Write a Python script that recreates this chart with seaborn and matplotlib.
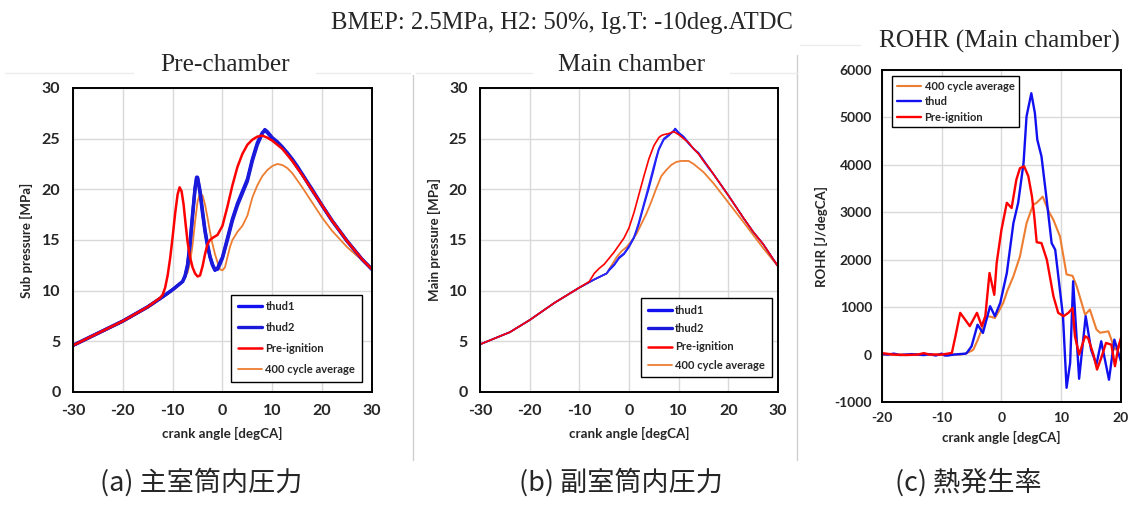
import matplotlib
matplotlib.use("Agg")
import matplotlib.pyplot as plt
import seaborn as sns
from matplotlib.lines import Line2D

# ---- data ----
# (a) pre-chamber pressure [MPa]
pre_avg_x = [-30, -25, -20, -15, -12, -10, -8, -7, -6.5, -6, -5.5, -5, -4.5, -4, -3.5, -3, -2.5, -2,
             -1.5, -1, -0.5, 0, 0.5, 1, 1.5, 2, 3, 4, 5, 6, 7, 8, 9, 10, 11, 12, 13, 14, 15, 16,
             18, 20, 22, 25, 28, 30]
pre_avg_y = [4.5, 5.7, 6.9, 8.3, 9.3, 10.0, 10.9, 11.8, 12.8, 14.5, 16.8, 18.8, 19.6, 19.4, 18.5, 17.2,
             15.8, 14.6, 13.6, 12.8, 12.1, 12.0, 12.3, 13.3, 14.3, 15.0, 15.8, 16.4, 17.4, 19.2, 20.4,
             21.3, 21.9, 22.3, 22.5, 22.4, 22.1, 21.6, 20.9, 20.2, 18.7, 17.2, 15.9, 14.3, 13.0, 12.1]

pre_thud_x = [-30, -25, -20, -15, -12, -10, -9, -8, -7.5, -7, -6.5, -6, -5.5, -5.2, -5, -4.5, -4, -3.5,
              -3, -2.5, -2, -1.5, -1, -0.5, 0, 1, 2, 3, 4, 5, 6, 7, 8, 8.5, 9, 10, 11, 12, 13, 14,
              15, 16, 18, 20, 22, 25, 28, 30]
pre_thud1_y = [4.6, 5.8, 7.0, 8.4, 9.4, 10.1, 10.5, 10.9, 11.5, 12.6, 14.8, 17.6, 20.2, 21.2, 21.1,
               19.6, 17.6, 15.8, 14.4, 13.3, 12.5, 12.0, 12.2, 12.8, 13.3, 15.2, 17.1, 18.6, 19.8,
               21.0, 23.0, 24.6, 25.6, 25.8, 25.6, 25.0, 24.6, 24.1, 23.6, 22.9, 22.2, 21.5, 19.9,
               18.4, 16.9, 14.9, 13.1, 12.1]
pre_thud2_y = [4.6, 5.8, 7.0, 8.4, 9.4, 10.1, 10.5, 10.9, 11.4, 12.4, 14.5, 17.3, 20.0, 21.0, 21.2,
               19.9, 17.9, 16.0, 14.6, 13.4, 12.6, 12.1, 12.1, 12.6, 13.2, 15.0, 16.9, 18.4, 19.6,
               20.8, 22.8, 24.4, 25.5, 25.9, 25.7, 25.1, 24.7, 24.2, 23.6, 23.0, 22.3, 21.5, 20.0,
               18.4, 16.9, 14.9, 13.1, 12.1]

pre_pig_x = [-30, -25, -20, -15, -12.5, -12, -11.5, -11, -10.5, -10, -9.5, -9, -8.6, -8.2, -7.8, -7.4,
             -7, -6.5, -6, -5.5, -5, -4.5, -4, -3.5, -3, -2.5, -2, -1, 0, 1, 2, 3, 4, 5, 6, 7, 8, 9,
             10, 11, 12, 14, 16, 18, 20, 22, 25, 28, 30]
pre_pig_y = [4.6, 5.8, 7.0, 8.4, 9.3, 9.6, 10.3, 11.5, 13.2, 15.3, 17.6, 19.5, 20.2, 19.8, 18.5, 16.6,
             14.8, 13.3, 12.3, 11.7, 11.4, 11.5, 12.4, 13.6, 14.6, 15.0, 15.2, 15.5, 16.4, 18.3, 20.4,
             22.2, 23.5, 24.4, 24.9, 25.2, 25.3, 25.1, 24.8, 24.4, 24.0, 22.8, 21.4, 19.9, 18.4,
             16.9, 14.9, 13.1, 12.1]

# (b) main chamber pressure [MPa]
main_avg_x = [-30, -24, -20, -15, -10, -7, -4.5, -3.5, -2.5, -1.5, -0.5, 0.5, 1.5, 2.5, 3.5, 4.5, 5.5,
              6.5, 7.5, 8.5, 9.5, 10.5, 12, 13, 15, 17, 20, 23, 25, 27, 30]
main_avg_y = [4.7, 5.9, 7.1, 8.8, 10.3, 11.1, 11.7, 12.5, 13.3, 13.9, 14.3, 14.9, 15.6, 16.6, 17.6,
              18.8, 20.1, 21.3, 21.9, 22.4, 22.7, 22.8, 22.8, 22.5, 21.7, 20.6, 18.7, 16.8, 15.5,
              14.2, 12.4]

main_thud_x = [-30, -24, -20, -15, -10, -7, -4.5, -4, -3, -2, -1, 0, 1, 1.5, 2, 3, 4, 5, 5.5, 6, 7, 8,
               9, 9.3, 10, 11, 12, 13, 14, 15, 16, 17, 18, 20, 23, 25, 27, 30]
main_thud1_y = [4.7, 5.9, 7.1, 8.8, 10.3, 11.1, 11.7, 12.0, 12.5, 13.2, 13.6, 14.3, 15.2, 15.9, 16.6,
                18.4, 20.1, 22.0, 23.0, 23.9, 24.9, 25.3, 25.8, 26.0, 25.6, 25.2, 24.6, 24.0, 23.6,
                22.9, 22.2, 21.5, 20.8, 19.4, 17.2, 15.8, 14.6, 12.4]
main_thud2_y = [4.7, 5.9, 7.1, 8.8, 10.3, 11.1, 11.7, 12.1, 12.6, 13.3, 13.7, 14.4, 15.3, 16.0, 16.8,
                18.6, 20.4, 22.3, 23.2, 24.0, 25.0, 25.4, 25.7, 25.9, 25.5, 25.1, 24.5, 24.0, 23.5,
                22.8, 22.1, 21.5, 20.8, 19.4, 17.2, 15.8, 14.6, 12.4]

main_pig_x = [-30, -24, -20, -15, -10, -8, -7, -6, -5, -4, -3, -2, -1, 0, 1, 2, 3, 4, 5, 6, 6.5, 7, 8,
              9, 10, 11, 12, 13, 14, 15, 16, 17, 18, 20, 23, 25, 27, 30]
main_pig_y = [4.7, 5.9, 7.1, 8.8, 10.3, 10.9, 11.7, 12.2, 12.6, 13.2, 13.8, 14.5, 15.2, 16.2, 17.7,
              19.5, 21.3, 23.0, 24.3, 25.1, 25.3, 25.4, 25.5, 25.7, 25.4, 25.0, 24.6, 24.0, 23.5,
              22.8, 22.2, 21.5, 20.8, 19.4, 17.2, 15.8, 14.6, 12.4]

# (c) rate of heat release [J/degCA]
rohr_avg_x = [-20, -15, -10, -7, -6, -5.5, -5, -4.7, -4, -3.3, -2.5, -1.8, -1.1, -0.5, 0.3, 1, 2, 3.1,
              4.2, 5.3, 5.9, 6.9, 7.9, 8.7, 9.8, 10.9, 11.9, 12.6, 14, 14.8, 15.9, 16.5, 17.9, 19, 20]
rohr_avg_y = [0, 0, 0, 0, 20, 50, 80, 105, 300, 527, 808, 800, 770, 900, 1090, 1350, 1650, 2070, 2770,
              3160, 3200, 3330, 3020, 2840, 2490, 1690, 1660, 1440, 840, 950, 530, 460, 490, 105, 175]

rohr_thud_x = [-20, -19, -18, -17, -16, -15, -14, -13, -12, -11, -10, -9.5, -9, -8, -7, -6, -5.8, -5,
               -4, -3.1, -1.9, -1.1, -0.2, 0.9, 2, 2.8, 3.7, 4.2, 5, 5.6, 6, 6.7, 7.5, 8.4, 9, 10.3,
               10.9, 11.5, 12, 13, 14.1, 15, 15.9, 16.7, 18, 18.9, 20]
rohr_thud_y = [10, 0, 20, -10, 0, 10, 0, -10, 10, -20, 20, -20, -20, 0, 10, 20, 35, 175, 630, 456,
               1020, 810, 1090, 1720, 2770, 3200, 4040, 5020, 5510, 5090, 4530, 4180, 3340, 2350,
               2210, 810, -700, -175, 1545, -510, 810, 105, -210, 280, -530, 315, -140]

rohr_pig_x = [-20, -18, -16, -14, -13, -12, -10, -9, -8.3, -7.7, -6.9, -6.1, -5.3, -4.1, -3.3, -2.7,
              -2, -1.2, -0.8, 0, 0.9, 1.7, 2.5, 3.1, 3.8, 4.5, 5.1, 5.5, 5.9, 6.7, 7.6, 8.7, 9.5,
              10.4, 11.2, 11.9, 12.3, 13, 14, 14.5, 15.4, 16, 16.8, 17.5, 18.4, 19, 19.6, 20]
rohr_pig_y = [30, 0, -10, 0, 30, 0, 0, 20, 35, 386, 880, 740, 600, 880, 600, 810, 1720, 1260, 1930,
              2630, 3200, 3090, 3690, 3930, 3970, 3760, 3340, 2910, 2370, 2350, 2000, 1230, 880, 810,
              880, 980, 386, 0, 386, 350, 0, -316, -35, 245, 210, -245, 175, 350]

sup_title = "BMEP: 2.5MPa, H2: 50%, Ig.T: -10deg.ATDC"
panel_titles = ["Pre-chamber", "Main chamber", "ROHR (Main chamber)"]
captions = ["(a) 主室筒内圧力", "(b) 副室筒内圧力", "(c) 熱発生率"]

BLUE = "#1010F0"
RED = "#FF0000"
ORANGE = "#ED7D31"

sns.set_theme(style="white")
plt.rcParams["font.family"] = ["Lato", "DejaVu Sans"]
plt.rcParams["font.weight"] = "bold"
plt.rcParams["axes.unicode_minus"] = False

fig = plt.figure(figsize=(11.31, 5.11), dpi=100)
ax1 = fig.add_axes([0.0645, 0.2329, 0.2644, 0.5949])
ax2 = fig.add_axes([0.4244, 0.2329, 0.2635, 0.5949])
ax3 = fig.add_axes([0.7798, 0.2133, 0.2113, 0.6497])


def style_axes(ax, tick_size, pad):
    ax.grid(True, color="#d9d9d9", lw=1.0)
    ax.set_axisbelow(True)
    for s in ax.spines.values():
        s.set_color("black")
        s.set_linewidth(1.4)
    ax.tick_params(axis="both", labelsize=tick_size, length=0, pad=pad)
    for lab in ax.get_xticklabels() + ax.get_yticklabels():
        lab.set_fontweight("bold")


def line(ax, x, y, color, lw):
    sns.lineplot(x=x, y=y, ax=ax, color=color, lw=lw, sort=False, estimator=None)


# (a)
line(ax1, pre_avg_x, pre_avg_y, ORANGE, 1.3)
line(ax1, pre_thud_x, pre_thud1_y, BLUE, 2.4)
line(ax1, pre_thud_x, pre_thud2_y, "#1A1AD8", 2.4)
line(ax1, pre_pig_x, pre_pig_y, RED, 1.8)
ax1.set_xlim(-30, 30)
ax1.set_ylim(0, 30)
ax1.set_xticks(range(-30, 31, 10))
ax1.set_yticks(range(0, 31, 5))
ax1.set_xlabel("crank angle [degCA]", fontsize=9.6, fontweight="bold", labelpad=6)
ax1.set_ylabel("Sub pressure [MPa]", fontsize=9.5, fontweight="bold", labelpad=6)
style_axes(ax1, 11.5, 9)

# (b)
line(ax2, main_avg_x, main_avg_y, ORANGE, 1.3)
line(ax2, main_thud_x, main_thud1_y, BLUE, 1.2)
line(ax2, main_thud_x, main_thud2_y, "#2828FF", 1.2)
line(ax2, main_pig_x, main_pig_y, RED, 1.2)
ax2.set_xlim(-30, 30)
ax2.set_ylim(0, 30)
ax2.set_xticks(range(-30, 31, 10))
ax2.set_yticks(range(0, 31, 5))
ax2.set_xlabel("crank angle [degCA]", fontsize=9.6, fontweight="bold", labelpad=6)
ax2.set_ylabel("Main pressure [MPa]", fontsize=9.5, fontweight="bold", labelpad=6)
style_axes(ax2, 11.5, 9)

# (c)
line(ax3, rohr_avg_x, rohr_avg_y, ORANGE, 1.5)
line(ax3, rohr_thud_x, rohr_thud_y, BLUE, 1.7)
line(ax3, rohr_pig_x, rohr_pig_y, RED, 1.7)
ax3.set_xlim(-20, 20)
ax3.set_ylim(-1000, 6000)
ax3.set_xticks(range(-20, 21, 10))
ax3.set_yticks(range(-1000, 6001, 1000))
ax3.set_xlabel("crank angle [degCA]", fontsize=9.5, fontweight="bold", labelpad=5)
ax3.set_ylabel("ROHR [J/degCA]", fontsize=9.5, fontweight="bold", labelpad=5)
style_axes(ax3, 10, 7)

leg_kw = dict(frameon=True, fancybox=False, edgecolor="black", framealpha=1,
              handlelength=2.2, handletextpad=0.3, borderpad=0.6, labelspacing=0.9)
h_pressure = [Line2D([], [], color=BLUE, lw=2.4), Line2D([], [], color="#1A1AD8", lw=2.4),
              Line2D([], [], color=RED, lw=1.8), Line2D([], [], color=ORANGE, lw=1.3)]
lab_pressure = ["thud1", "thud2", "Pre-ignition", "400 cycle average"]
lg1 = ax1.legend(h_pressure, lab_pressure, loc="lower right", bbox_to_anchor=(0.985, 0.015),
                 prop={"size": 8, "weight": "bold"}, **leg_kw)
lg2 = ax2.legend(h_pressure, lab_pressure, loc="lower right", bbox_to_anchor=(0.998, 0.03),
                 prop={"size": 8, "weight": "bold"}, **dict(leg_kw, labelspacing=0.65))
lg3 = ax3.legend([Line2D([], [], color=ORANGE, lw=1.5), Line2D([], [], color=BLUE, lw=1.7),
                  Line2D([], [], color=RED, lw=1.7)],
                 ["400 cycle average", "thud", "Pre-ignition"], loc="upper left",
                 bbox_to_anchor=(0.02, 0.998), prop={"size": 8, "weight": "bold"},
                 **dict(leg_kw, labelspacing=0.4, borderpad=0.4))
for lg in (lg1, lg2, lg3):
    lg.get_frame().set_linewidth(1.0)

# titles
serif = ["Liberation Serif", "DejaVu Serif"]
fig.text(0.497, 0.955, sup_title, ha="center", va="center", fontsize=17.7, family=serif,
         fontweight="normal")
fig.text(0.199, 0.873, panel_titles[0], ha="center", va="center", fontsize=18.3, family=serif,
         fontweight="normal")
fig.text(0.5587, 0.873, panel_titles[1], ha="center", va="center", fontsize=18.3, family=serif,
         fontweight="normal")
fig.text(0.8838, 0.918, panel_titles[2], ha="center", va="center", fontsize=18.3, family=serif,
         fontweight="normal")

# captions
cjk = ["Noto Sans CJK JP", "DejaVu Sans"]
for xc, txt in zip([0.178, 0.549, 0.856], captions):
    fig.text(xc, 0.027, txt, ha="center", va="bottom", fontsize=19.5, family=cjk,
             fontweight="normal")

# separators between panels
sep = "#cfcfcf"
fig.add_artist(Line2D([413 / 1131, 413 / 1131], [1 - 75 / 511, 1 - 460 / 511], color=sep, lw=1))
fig.add_artist(Line2D([797 / 1131, 797 / 1131], [1 - 55 / 511, 1 - 460 / 511], color=sep, lw=1))
for x0, x1 in [(5, 133), (316, 410), (416, 532), (730, 797)]:
    fig.add_artist(Line2D([x0 / 1131, x1 / 1131], [1 - 73 / 511] * 2, color="#ececec", lw=1))
fig.add_artist(Line2D([800 / 1131, 860 / 1131], [1 - 45 / 511] * 2, color="#ececec", lw=1))

fig.savefig("out.png", dpi=100, facecolor="white")
